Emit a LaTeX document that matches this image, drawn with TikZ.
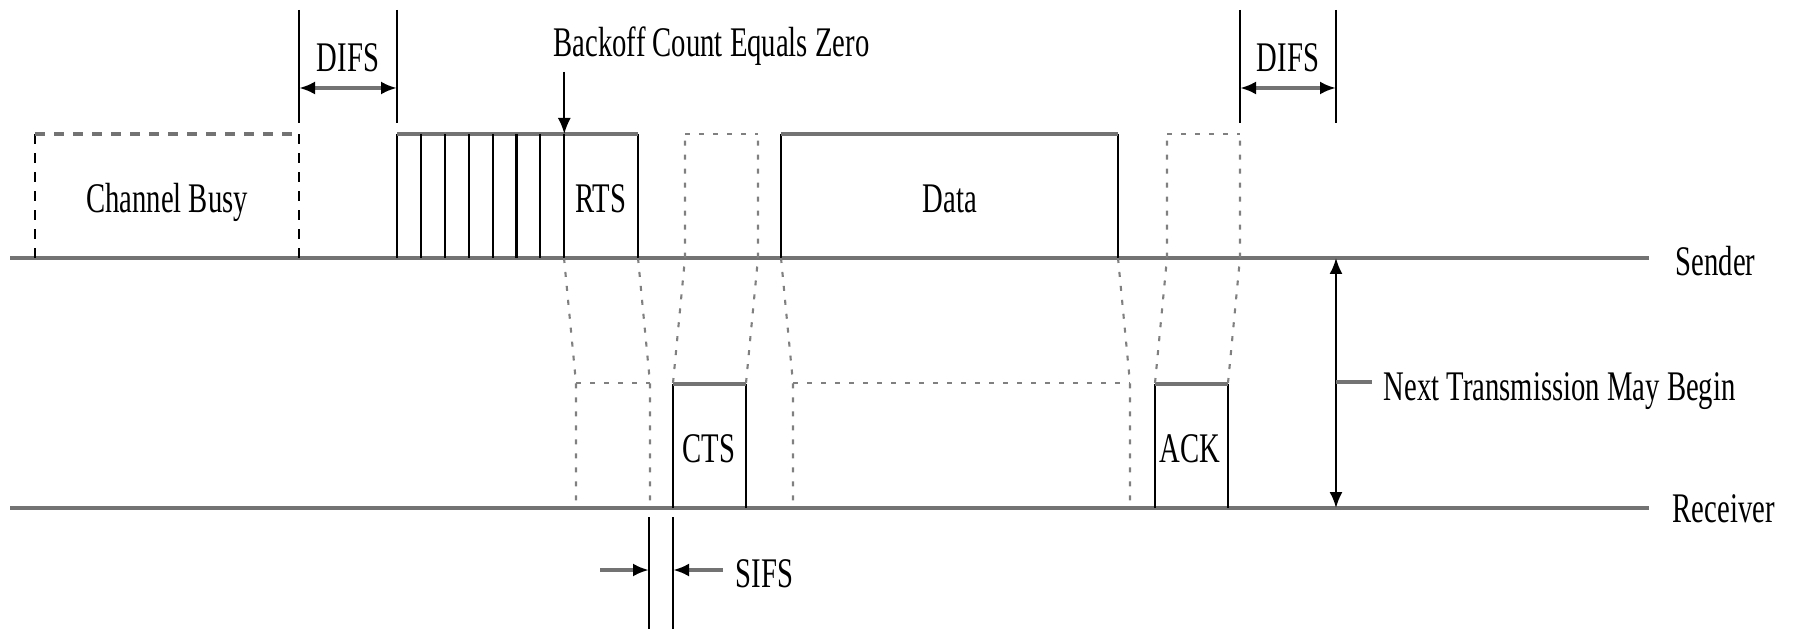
\documentclass[tikz,border=0pt]{standalone}
\usepackage{fontspec}
\setmainfont{Liberation Serif}
\usetikzlibrary{arrows.meta}
\newcommand{\squeeze}[1]{\scalebox{0.68}[1]{#1}}

\begin{document}
\begin{tikzpicture}[
    lane/.style={line width=1.4pt, draw=black!55},
    edge/.style={line width=0.6pt},
    busy/.style={line width=0.6pt, dash pattern=on 1mm off 0.9mm},
    proj/.style={line width=0.6pt, draw=black!50, dash pattern=on 0.5mm off 0.9mm},
    gap/.style={line width=1.3pt, draw=black!55},
    lbl/.style={font=\fontsize{12}{14}\selectfont, inner sep=0pt},
    >={Latex[black,length=1.6mm,width=1.3mm]}
]
\useasboundingbox (0,0) rectangle (17.93,6.29);

            % Sender and receiver time lines
            \draw[lane] (0.10,3.71) -- (16.49,3.71);
            \draw[lane] (0.10,1.21) -- (16.49,1.21);
            \node[lbl, anchor=base west] (sender) at (16.75,3.54) {\squeeze{Sender}};
            \node[lbl, anchor=base west] (receiver) at (16.72,1.07) {\squeeze{Receiver}};

            % Channel busy
            \draw[busy] (0.35,3.71) -- (0.35,4.95);
            \draw[busy] (2.99,3.71) -- (2.99,4.95);
            \draw[busy, lane] (0.35,4.95) -- (2.99,4.95);
            \node[lbl, anchor=base] (chbusy) at (1.67,4.16) {\squeeze{Channel Busy}};

            % Frames
            \foreach \a/\b/\y in {3.97/6.38/3.71, 7.81/11.18/3.71, 6.73/7.46/1.21, 11.55/12.28/1.21} {
                \draw[edge] (\a,\y) -- (\a,\y+1.24);
                \draw[edge] (\b,\y) -- (\b,\y+1.24);
                \draw[lane] (\a,\y+1.24) -- (\b,\y+1.24);
            }
            % Backoff slots
            \foreach \k in {1,...,7} {
                \draw[edge] (3.97+0.239*\k,3.71) -- ++(0,1.24);
            }
            \node[lbl, anchor=base] (rts) at (6.01,4.16) {\squeeze{RTS}};
            \node[lbl, anchor=base] (data) at (9.50,4.16) {\squeeze{Data}};
            \node[lbl, anchor=base] (cts) at (7.09,1.67) {\squeeze{CTS}};
            \node[lbl, anchor=base] (ack) at (11.90,1.67) {\squeeze{ACK}};

            % Copies seen at the receiver
            \foreach \a/\b in {5.64/6.38, 7.81/11.18} {
                \draw[proj] (\a,3.71) -- (\a+0.12,2.46) -- (\a+0.12,1.21);
                \draw[proj] (\b,3.71) -- (\b+0.12,2.46) -- (\b+0.12,1.21);
                \draw[proj] (\a+0.12,2.46) -- (\b+0.12,2.46);
            }
            % Copies seen at the sender
            \foreach \a/\b in {6.73/7.46, 11.55/12.28} {
                \draw[proj] (\a,2.46) -- (\a+0.12,3.71) -- (\a+0.12,4.95);
                \draw[proj] (\b,2.46) -- (\b+0.12,3.71) -- (\b+0.12,4.95);
                \draw[proj] (\a+0.12,4.95) -- (\b+0.12,4.95);
            }

            % DIFS
            \foreach \a/\b in {2.99/3.97, 12.40/13.36} {
                \draw[edge] (\a,6.19) -- (\a,5.06);
                \draw[edge] (\b,6.19) -- (\b,5.06);
                \draw[gap, <->] (\a,5.41) -- (\b,5.41);
                \node[lbl, anchor=base] at ({(\a+\b)/2},5.57) {\squeeze{DIFS}};
            }

            % Backoff count
            \node[lbl, anchor=base west] (zero) at (5.53,5.72) {\squeeze{Backoff Count Equals Zero}};
            \draw[edge, ->] (5.643,5.57) -- (5.643,4.95);

            % SIFS
            \draw[edge] (6.49,1.12) -- (6.49,0);
            \draw[edge] (6.73,1.12) -- (6.73,0);
            \draw[gap, ->] (6.00,0.59) -- (6.49,0.59);
            \draw[gap, ->] (7.23,0.59) -- (6.73,0.59);
            \node[lbl, anchor=base west] (sifs) at (7.35,0.42) {\squeeze{SIFS}};

            % Next transmission
            \draw[edge, <->] (13.36,3.71) -- (13.36,1.21);
            \draw[gap] (13.36,2.47) -- (13.72,2.47);
            \node[lbl, anchor=base west] (next) at (13.83,2.29) {\squeeze{Next Transmission May Begin}};
        \end{tikzpicture}
\end{document}
